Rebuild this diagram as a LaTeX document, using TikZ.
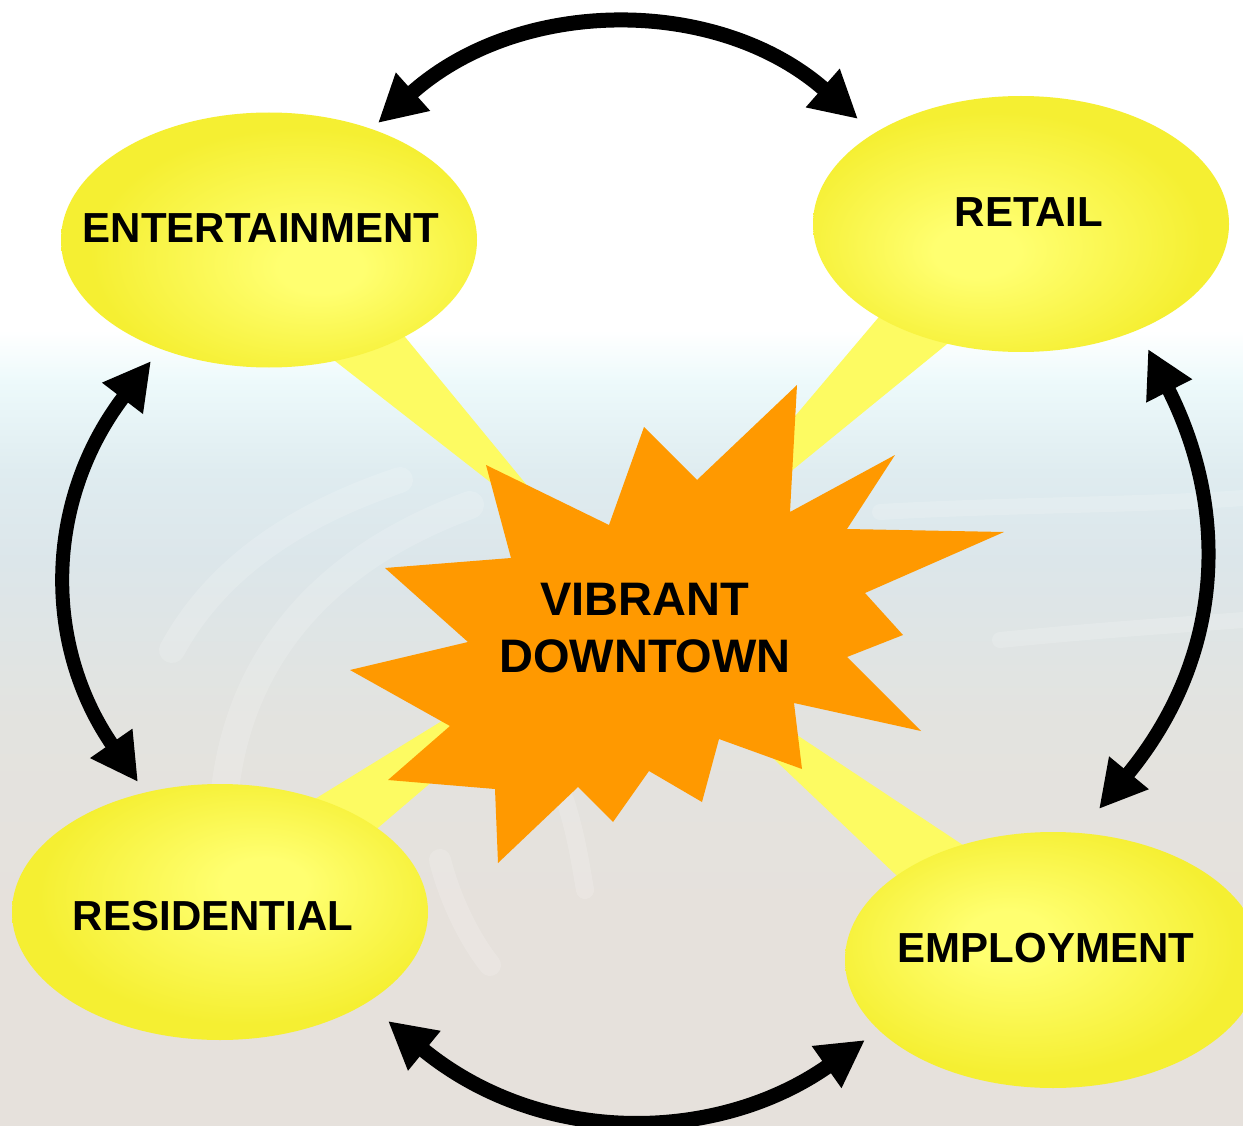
\documentclass[tikz,border=0pt]{standalone}
\usepackage{fontspec}
\setmainfont{Liberation Sans}
\usetikzlibrary{arrows.meta,shapes.geometric}
\definecolor{ydark}{RGB}{245,239,50}
\definecolor{ylight}{RGB}{255,255,112}
\definecolor{ytail}{RGB}{253,251,98}
\definecolor{starorange}{RGB}{255,153,0}
\definecolor{bgbot}{RGB}{230,225,220}
\definecolor{bggray}{RGB}{227,227,223}
\definecolor{bgblue}{RGB}{220,230,234}
\definecolor{bgblueb}{RGB}{223,236,240}
\definecolor{bgcyan}{RGB}{237,250,251}
\pgfdeclareradialshading{shEnt}{\pgfpoint{7bp}{-6bp}}{color(0bp)=(ylight); color(5bp)=(ylight); color(25bp)=(ydark); color(50bp)=(ydark)}
\pgfdeclareradialshading{shRet}{\pgfpoint{-6bp}{-6bp}}{color(0bp)=(ylight); color(5bp)=(ylight); color(25bp)=(ydark); color(50bp)=(ydark)}
\pgfdeclareradialshading{shRes}{\pgfpoint{6bp}{6bp}}{color(0bp)=(ylight); color(5bp)=(ylight); color(25bp)=(ydark); color(50bp)=(ydark)}
\pgfdeclareradialshading{shEmp}{\pgfpoint{-6bp}{5bp}}{color(0bp)=(ylight); color(5bp)=(ylight); color(25bp)=(ydark); color(50bp)=(ydark)}
\tikzset{
  bubble/.style={ellipse, draw=none, minimum width=416pt, minimum height=256pt, inner sep=0pt},
  tail/.style={fill=ytail, draw=none},
  lbl/.style={inner sep=0pt, text=black, font=\fontsize{42}{50}\selectfont\bfseries},
  centerlbl/.style={inner sep=0pt, text=black, align=center, font=\fontsize{47}{57}\selectfont\bfseries},
  cyc/.style={line width=15pt, draw=black, {Triangle[length=47pt,width=48pt]}-{Triangle[length=47pt,width=48pt]}},
  swoosh/.style={draw=white, line cap=round, opacity=0.16},
}
\begin{document}
\begin{tikzpicture}[x=1pt,y=-1pt]
\useasboundingbox (0,0) rectangle (1243,1126);
% background
\fill[white] (0,0) rectangle (1243,332);
\shade[top color=white, bottom color=bgcyan] (0,330) rectangle (1243,382);
\shade[top color=bgcyan, bottom color=bgblueb] (0,380) rectangle (1243,472);
\shade[top color=bgblueb, bottom color=bgblue] (0,470) rectangle (1243,562);
\shade[top color=bgblue, bottom color=bggray] (0,560) rectangle (1243,722);
\shade[top color=bggray, bottom color=bgbot] (0,720) rectangle (1243,922);
\fill[bgbot] (0,920) rectangle (1243,1126);
% faint swooshes
\draw[swoosh, line width=26pt] (172,650) .. controls (210,580) and (280,520) .. (400,480);
\draw[swoosh, line width=28pt] (225,790) .. controls (240,660) and (320,560) .. (470,505);
\draw[swoosh, line width=22pt] (440,860) .. controls (450,900) and (470,940) .. (490,965);
\draw[swoosh, line width=18pt] (565,800) .. controls (575,830) and (580,860) .. (585,890);
\draw[swoosh, line width=16pt] (880,512) .. controls (1000,505) and (1150,505) .. (1243,498);
\draw[swoosh, line width=16pt] (1000,640) .. controls (1100,630) and (1180,625) .. (1243,620);
% tails
\fill[tail] (312,343) -- (585,556) -- (387,315) -- cycle;
\fill[tail] (900,292) -- (654,583) -- (974,322) -- cycle;
\fill[tail] (284,818) -- (660,587) -- (352,850) -- cycle;
\fill[tail] (984,859) -- (637,629) -- (914,892) -- cycle;
% bubbles
\node[bubble, shading=shEnt, minimum height=255pt] (ent) at (269,240) {};
\node[bubble, shading=shRet] (ret) at (1021,224) {};
\node[bubble, shading=shRes] (res) at (220,912) {};
\node[bubble, shading=shEmp] (emp) at (1053,960) {};
\node[lbl] (entL) at (261,228) {ENTERTAINMENT};
\node[lbl] (retL) at (1029,212) {RETAIL};
\node[lbl] (resL) at (213,916) {RESIDENTIAL};
\node[lbl] (empL) at (1046,948) {EMPLOYMENT};
% star
\fill[starorange] (797,385) -- (790,512) -- (895,455) -- (847,529) -- (1004,532)
  -- (865,593) -- (903,635) -- (847,657) -- (921,731) -- (794,703) -- (802,769)
  -- (719,739) -- (702,802) -- (649,771) -- (613,822) -- (578,787) -- (498,863)
  -- (495,789) -- (388,780) -- (450,726) -- (350,670) -- (468,642) -- (385,568)
  -- (511,558) -- (486,465) -- (609,525) -- (644,427) -- (697,480) -- cycle;
\node[centerlbl] (core) at (645,628) {VIBRANT\\DOWNTOWN};
% arrow end points
\coordinate (tl1) at (378,123);
\coordinate (tr1) at (858,119);
\coordinate (rt1) at (1148,349);
\coordinate (rb1) at (1099,809);
\coordinate (br1) at (865,1040);
\coordinate (bl1) at (388,1021);
\coordinate (lb1) at (138,782);
\coordinate (lt1) at (151,361);
\draw[cyc] (tl1) .. controls (520,-4) and (718,-4) .. (tr1);
\draw[cyc, line width=14pt] (rt1) .. controls (1231,513) and (1223,659) .. (rb1);
\draw[cyc] (br1) .. controls (719,1143) and (543,1148) .. (bl1);
\draw[cyc, line width=14pt] (lb1) .. controls (43,645) and (44,501) .. (lt1);
\end{tikzpicture}
\end{document}
